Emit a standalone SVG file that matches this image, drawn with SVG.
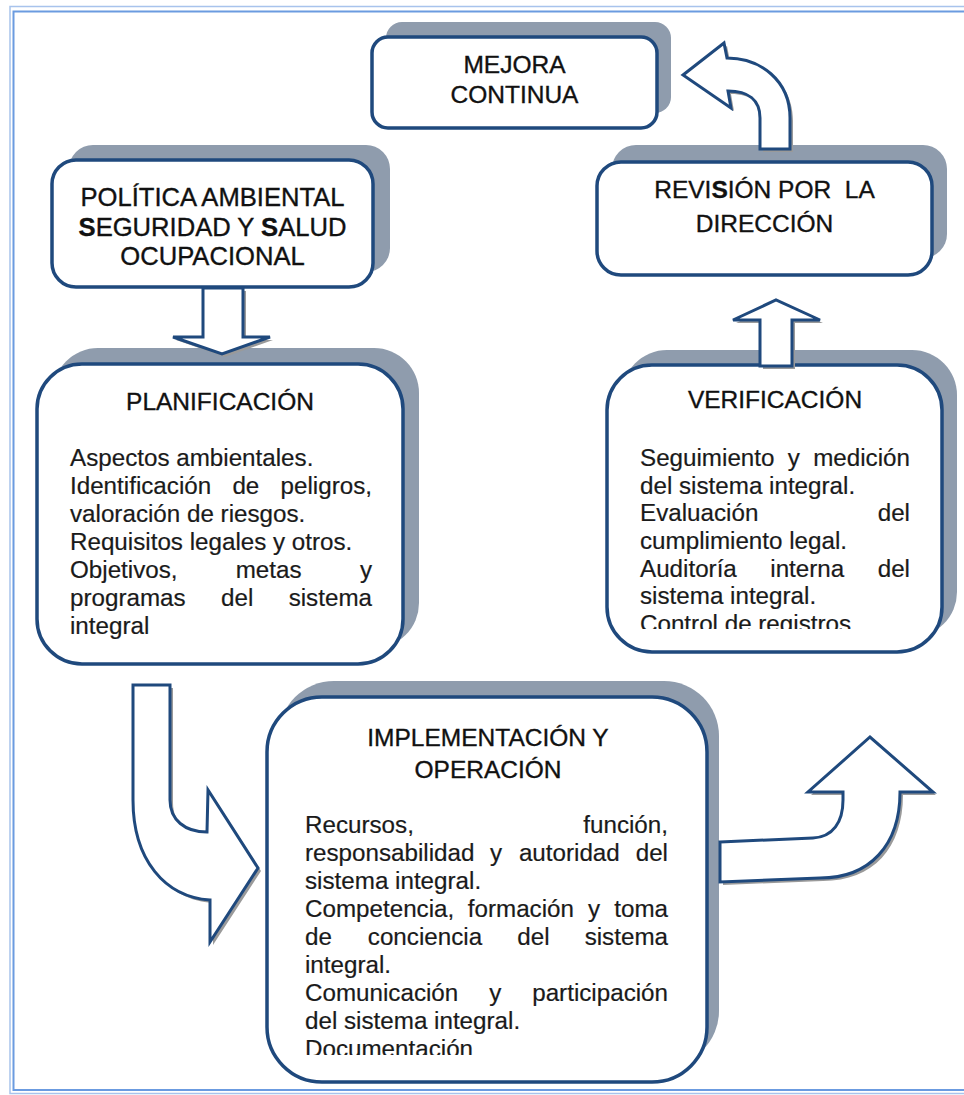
<svg xmlns="http://www.w3.org/2000/svg" width="964" height="1095" viewBox="0 0 964 1095">
  <defs>
    <style>
      .sh{fill:#8f9cad}
      .bx{fill:#fff;stroke:#1f497d;stroke-width:3.5}
      .hd{font-family:"Liberation Sans",Arial,sans-serif;font-size:24.5px;fill:#111;stroke:#111;stroke-width:0.35;text-anchor:middle}
      .hd.lg{font-size:25.6px}
      .bd{font-family:"Liberation Sans",Arial,sans-serif;font-size:24.2px;fill:#1a1a1a;stroke:#1a1a1a;stroke-width:0.2}
      .e{text-anchor:end}
      .b{font-weight:bold}
      .ar{fill:#fff;stroke:#1f497d;stroke-width:3;stroke-linejoin:miter}
      .as{fill:#9a9a9a}
    </style>
    <clipPath id="clipVer"><rect x="600" y="430" width="340" height="199"/></clipPath>
    <clipPath id="clipImp"><rect x="280" y="800" width="420" height="255"/></clipPath>
  </defs>

  <rect width="964" height="1095" fill="#fff"/>

  <!-- page frame: double light-blue rule -->
  <g id="frame" fill="none">
    <rect x="10" y="6.5" width="970" height="1087" stroke="#a8c3ec" stroke-width="1.5"/>
    <rect x="13.5" y="11.5" width="970" height="1078.5" stroke="#6b9be0" stroke-width="2"/>
  </g>

  <g id="mejora-continua">
    <rect class="sh" x="386" y="22" width="285" height="91" rx="16"/>
    <rect class="bx" x="372" y="37" width="285" height="91" rx="16"/>
    <text class="hd" x="514.5" y="73">MEJORA</text>
    <text class="hd" x="514.5" y="103">CONTINUA</text>
  </g>

  <g id="politica">
    <rect class="sh" x="69" y="145" width="321" height="127" rx="24"/>
    <rect class="bx" x="52" y="160" width="321" height="127" rx="24"/>
    <text class="hd lg" x="212.5" y="206">POLÍTICA AMBIENTAL</text>
    <text class="hd lg" x="212.5" y="236"><tspan class="b">S</tspan>EGURIDAD Y <tspan class="b">S</tspan>ALUD</text>
    <text class="hd lg" x="212.5" y="265">OCUPACIONAL</text>
  </g>

  <g id="revision">
    <rect class="sh" x="612" y="145" width="335" height="113" rx="24"/>
    <rect class="bx" x="597" y="162" width="335" height="113" rx="24"/>
    <text class="hd" x="764.5" y="198" xml:space="preserve">REVI<tspan class="b">S</tspan>IÓN POR  LA</text>
    <text class="hd" x="764.5" y="232">DIRECCIÓN</text>
  </g>

  <g id="planificacion">
    <rect class="sh" x="53" y="348" width="366" height="300" rx="45"/>
    <rect class="bx" x="37" y="364" width="366" height="300" rx="45"/>
    <text class="hd" x="220" y="410">PLANIFICACIÓN</text>
    <g class="bd">
      <text x="70" y="466">Aspectos ambientales.</text>
      <text y="494"><tspan x="70">Identificación</tspan><tspan x="232.4">de</tspan></text>
      <text class="e" x="372" y="494">peligros,</text>
      <text x="70" y="522">valoración de riesgos.</text>
      <text x="70" y="550">Requisitos legales y otros.</text>
      <text y="578"><tspan x="70">Objetivos,</tspan><tspan x="235.7">metas</tspan></text>
      <text class="e" x="372" y="578">y</text>
      <text y="606"><tspan x="70">programas</tspan><tspan x="221">del</tspan></text>
      <text class="e" x="372" y="606">sistema</text>
      <text x="70" y="634">integral</text>
    </g>
  </g>

  <g id="verificacion">
    <rect class="sh" x="622" y="350" width="335" height="287" rx="45"/>
    <rect class="bx" x="607" y="365" width="335" height="287" rx="45"/>
    <text class="hd" x="775" y="408">VERIFICACIÓN</text>
    <g class="bd" clip-path="url(#clipVer)">
      <text y="466"><tspan x="640">Seguimiento</tspan><tspan x="787.7">y</tspan></text>
      <text class="e" x="910" y="466">medición</text>
      <text x="640" y="494">del sistema integral.</text>
      <text x="640" y="521">Evaluación</text>
      <text class="e" x="910" y="521">del</text>
      <text x="640" y="549">cumplimiento legal.</text>
      <text y="577"><tspan x="640">Auditoría</tspan><tspan x="770.3">interna</tspan></text>
      <text class="e" x="910" y="577">del</text>
      <text x="640" y="604">sistema integral.</text>
      <text x="640" y="632">Control de registros</text>
    </g>
  </g>

  <g id="implementacion">
    <rect class="sh" x="279" y="681" width="440" height="385" rx="55"/>
    <rect class="bx" x="267" y="697" width="440" height="385" rx="55"/>
    <text class="hd" x="488" y="746">IMPLEMENTACIÓN Y</text>
    <text class="hd" x="488" y="778">OPERACIÓN</text>
    <g class="bd" clip-path="url(#clipImp)">
      <text x="305" y="833">Recursos,</text>
      <text class="e" x="668" y="833">función,</text>
      <text y="861"><tspan x="305">responsabilidad</tspan><tspan x="490">y</tspan><tspan x="518.9">autoridad</tspan></text>
      <text class="e" x="668" y="861">del</text>
      <text x="305" y="889">sistema integral.</text>
      <text y="917"><tspan x="305">Competencia,</tspan><tspan x="467.8">formación</tspan><tspan x="587.9">y</tspan></text>
      <text class="e" x="668" y="917">toma</text>
      <text y="945"><tspan x="305">de</tspan><tspan x="367.8">conciencia</tspan><tspan x="517.3">del</tspan></text>
      <text class="e" x="668" y="945">sistema</text>
      <text x="305" y="973">integral.</text>
      <text y="1001"><tspan x="305">Comunicación</tspan><tspan x="489.2">y</tspan></text>
      <text class="e" x="668" y="1001">participación</text>
      <text x="305" y="1029">del sistema integral.</text>
      <text x="305" y="1057">Documentación</text>
    </g>
  </g>

  <!-- block arrows between stages; each has a grey drop shadow -->
  <g id="connectors">
    <g id="arrow-politica-planificacion">
      <path class="as" transform="translate(3,3)" d="M203,288 L243,288 L243,337 L270,337 L222,354 L173,337 L203,337 Z"/>
      <path class="ar" d="M203,288 L243,288 L243,337 L270,337 L222,354 L173,337 L203,337 Z"/>
    </g>
    <g id="arrow-planificacion-implementacion">
      <path class="as" transform="translate(3,3)" d="M133,685 L170,685 L170,800 C170,820 185,832 207,832 L208,790 L258,868 L210,942 L210,900 C165,897 133,860 133,800 Z"/>
      <path class="ar" d="M133,685 L170,685 L170,800 C170,820 185,832 207,832 L208,790 L258,868 L210,942 L210,900 C165,897 133,860 133,800 Z"/>
    </g>
    <g id="arrow-implementacion-verificacion">
      <path class="as" transform="translate(3,3)" d="M720,842 L813,838 C833,837 843,822 843,800 L843,792 L808,792 L870,737 L933,792 L900,792 C900,845 870,878 820,878 L720,882 Z"/>
      <path class="ar" d="M720,842 L813,838 C833,837 843,822 843,800 L843,792 L808,792 L870,737 L933,792 L900,792 C900,845 870,878 820,878 L720,882 Z"/>
    </g>
    <g id="arrow-verificacion-revision">
      <path class="as" transform="translate(3,3)" d="M760,366 L760,320 L733,320 L776,300 L820,320 L792,320 L792,366 Z"/>
      <path class="ar" d="M760,366 L760,320 L733,320 L776,300 L820,320 L792,320 L792,366 Z"/>
    </g>
    <g id="arrow-revision-mejora">
      <path class="as" transform="translate(3,3)" d="M683,75 L724,43 L727,58 C760,58 790,80 790,118 L790,149 L760,149 L760,118 C760,100 748,91 728,91 L731,108 Z"/>
      <path class="ar" d="M683,75 L724,43 L727,58 C760,58 790,80 790,118 L790,149 L760,149 L760,118 C760,100 748,91 728,91 L731,108 Z"/>
    </g>
  </g>
</svg>
